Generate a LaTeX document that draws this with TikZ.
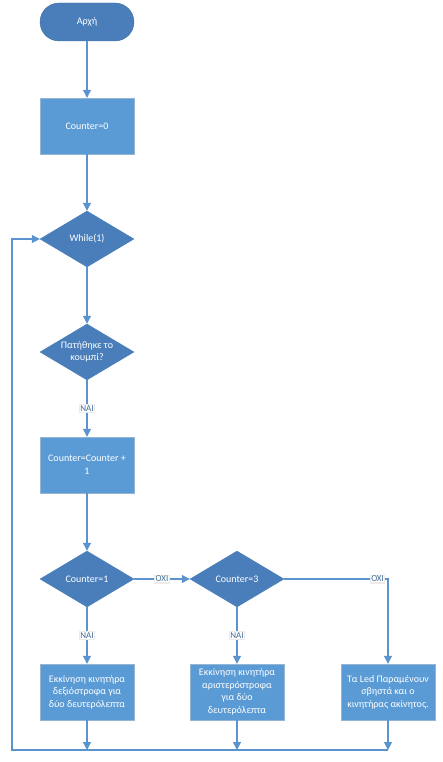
\documentclass[tikz,border=0pt]{standalone}
\usepackage{fontspec}
\setmainfont{Carlito}
\usetikzlibrary{shapes.geometric,arrows.meta}
\definecolor{boxblue}{HTML}{5B9BD5}
\definecolor{darkblue}{HTML}{4A7EBB}
\definecolor{edgeblue}{HTML}{41719C}
\definecolor{lineblue}{HTML}{5B93CF}
\begin{document}
\begin{tikzpicture}[
      x=1pt, y=-1pt,
      every node/.style={font=\fontsize{10}{12.5}\selectfont, text=white, align=center},
      terminal/.style={rectangle, fill=darkblue, draw=edgeblue, rounded corners=19pt, minimum width=94pt, minimum height=38pt},
      process/.style={rectangle, fill=boxblue, draw=boxblue!85!black!60!white, minimum width=94pt, minimum height=56pt, inner sep=1pt},
      decision/.style={diamond, aspect=1.7, fill=darkblue, draw=darkblue, minimum width=94pt, minimum height=56pt, inner sep=0pt},
      flow/.style={draw=lineblue, line width=1.1pt, -{Triangle[length=8pt,width=8pt]}},
      answer/.style={fill=white, draw=black!8, text=boxblue!70!black, inner sep=1pt, font=\fontsize{9}{10}\selectfont}
  ]
    \useasboundingbox (0,0) rectangle (443,762);

    \node[terminal] (start) at (87,22) {Αρχή};
    \node[process] (init) at (87,126) {Counter=0};
    \node[decision] (loop) at (87,239) {While(1)};
    \node[decision] (button) at (87,352) {Πατήθηκε το\\κουμπί?};
    \node[process] (incr) at (87,465) {Counter=Counter +\\1};
    \node[decision] (check1) at (87,579) {Counter=1};
    \node[decision] (check3) at (237,579) {Counter=3};
    \node[process] (right) at (87,692) {Εκκίνηση κινητήρα\\δεξιόστροφα για\\δύο δευτερόλεπτα};
    \node[process] (left) at (237,692) {Εκκίνηση κινητήρα\\αριστερόστροφα\\για δύο\\δευτερόλεπτα};
    \node[process] (idle) at (388,692) {Τα Led Παραμένουν\\σβηστά και ο\\κινητήρας ακίνητος.};

    \coordinate (back1) at (87,750);
    \coordinate (back2) at (237,750);
    \coordinate (back3) at (388,750);
    \coordinate (corner) at (12,750);

    \draw[flow] (start) -- (init);
    \draw[flow] (init) -- (loop);
    \draw[flow] (loop) -- (button);
    \draw[flow] (button) -- node[answer] {NAI} (incr);
    \draw[flow] (incr) -- (check1);
    \draw[flow] (check1) -- node[answer] {OXI} (check3);
    \draw[flow] (check3.east) -| node[answer, pos=0.45] {OXI} (idle.north);
    \draw[flow] (check1) -- node[answer] {NAI} (right);
    \draw[flow] (check3) -- node[answer] {NAI} (left);
    \draw[flow] (right) -- (back1);
    \draw[flow] (left) -- (back2);
    \draw[flow] (idle) -- (back3);
    \draw[flow] (back3) -- (corner) |- (loop.west);
  \end{tikzpicture}
\end{document}
